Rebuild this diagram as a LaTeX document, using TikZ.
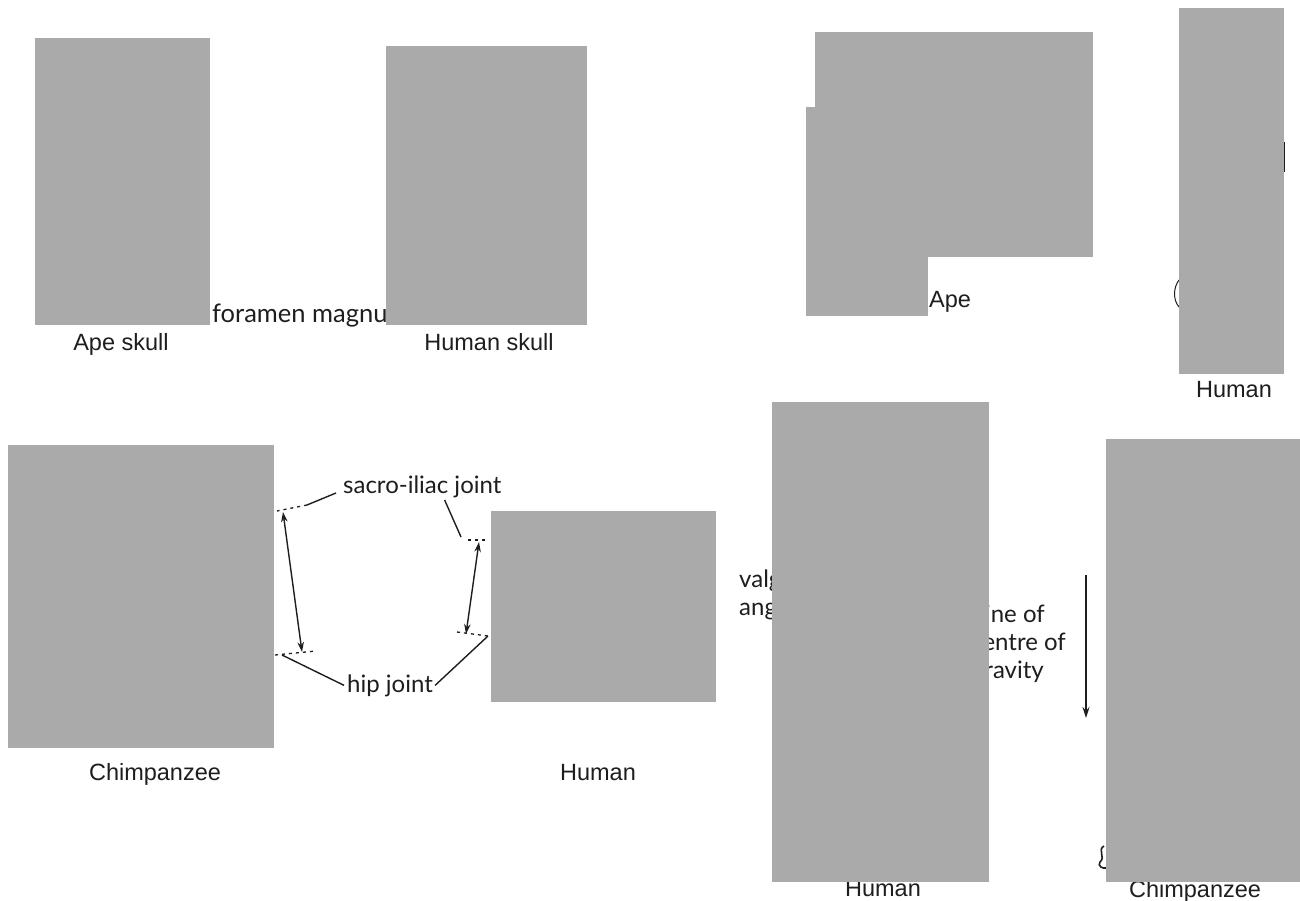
\documentclass[tikz,border=0pt]{standalone}
\usepackage{fontspec}
\setmainfont{Liberation Sans}
\newfontfamily\notefont{Lato}
\usetikzlibrary{arrows.meta, positioning}
\definecolor{photocol}{RGB}{170,170,170}
\definecolor{inkcol}{RGB}{30,30,30}

\begin{document}
\begin{tikzpicture}[
  x=1pt, y=-1pt,
  photo/.style={fill=photocol},
  title/.style={font=\fontsize{23.5}{27}\selectfont, text=inkcol, anchor=base, inner sep=0pt},
  note/.style={font=\notefont\fontsize{24}{28}\selectfont, text=inkcol,
               anchor=base west, inner sep=0pt, align=left},
  lead/.style={inkcol, line width=1.4pt},
  jointline/.style={inkcol, line width=1.3pt, dash pattern=on 3pt off 4pt},
  span/.style={inkcol, line width=1.4pt,
               {Stealth[length=10pt,width=6.5pt]}-{Stealth[length=10pt,width=6.5pt]}}
]
  \useasboundingbox[fill=white] (0,0) rectangle (1300,901);

  % bits of the drawings that stick out of the pictures
  \draw[inkcol, line width=1pt] (1179,280) .. controls (1173,288) and (1173,300) .. (1179,307);
  \draw[inkcol, line width=1.2pt] (1284.5,142) -- (1284.5,172);
  \draw[inkcol, line width=1.6pt] (1104,846) .. controls (1097,850) and (1106,857) .. (1100,862)
    .. controls (1097,866) and (1103,869) .. (1106,868);

  % texts that run under the pictures
  \node[note, font=\notefont\fontsize{25.5}{30}\selectfont] (foramen) at (212,322) {foramen magnum};
  \node[note] (valgus) at (739,587) {valgus};
  \node[note] (angle) at (739,615) {angle};
  \node[note, anchor=base east] (line1) at (1045,622) {line of};
  \node[note, anchor=base east] (line2) at (1066,650) {centre of};
  \node[note, anchor=base east] (line3) at (1044,678) {gravity};
  \node[title] (humanC) at (883,896) {Human};
  \node[title] (chimpD) at (1195,897) {Chimpanzee};

  % skulls
  \fill[photo] (35,38) rectangle (210,325);
  \fill[photo] (386,46) rectangle (587,325);
  \node[title] (apeskull) at (121,350) {Ape skull};
  \node[title] (humanskull) at (489,350) {Human skull};

  % heads and spines
  \fill[photo] (815,32) rectangle (1093,257);
  \fill[photo] (806,107) rectangle (928,316);
  \fill[photo] (1179,8) rectangle (1284,374);
  \node[title, anchor=base west] (ape) at (929,307) {Ape};
  \node[title] (humanA) at (1234,397) {Human};

  % pelves
  \fill[photo] (8,445) rectangle (274,748);
  \fill[photo] (491,511) rectangle (716,702);
  \node[title] (chimpB) at (155,780) {Chimpanzee};
  \node[title] (humanB) at (598,780) {Human};

  \node[note] (sacro) at (343,493) {sacro-iliac joint};
  \node[note] (hip) at (347,692) {hip joint};

  \coordinate (sacroL) at (307,505);
  \coordinate (hipL) at (282,655);
  \coordinate (sacroR) at (461,537);
  \coordinate (hipR) at (488,636);

  \draw[lead] (sacro.base west) ++(-7,0) -- (sacroL);
  \draw[jointline] (sacroL) -- (277,511);
  \draw[span] (283,512) -- (302,652);
  \draw[jointline] (275,655) -- (316,651);
  \draw[lead] (hipL) -- ([xshift=-3pt]hip.west);

  \draw[lead] (sacro.base east) ++(-57,7) -- (sacroR);
  \draw[jointline] (468,540) -- (485,540);
  \draw[span] (479,542) -- (466,634);
  \draw[jointline] (457,632) -- (488,636);
  \draw[lead] (hipR) -- ([xshift=2pt]hip.east);

  % legs
  \fill[photo] (772,402) rectangle (989,882);
  \fill[photo] (1106,439) rectangle (1300,882);
  \draw[inkcol, line width=1.5pt, -{Stealth[length=11pt,width=7pt]}] (1086,575) -- (1086,718);
\end{tikzpicture}
\end{document}
